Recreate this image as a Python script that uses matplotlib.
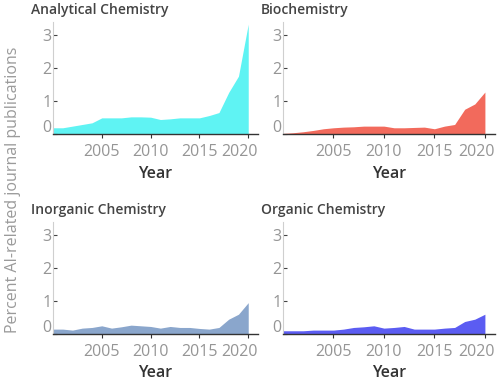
import matplotlib.pyplot as plt
from matplotlib.transforms import ScaledTranslation

plt.rcParams['font.family'] = ['Open Sans', 'DejaVu Sans']

years = list(range(2000, 2021))

analytical = [0.20, 0.20, 0.25, 0.30, 0.35, 0.50, 0.50, 0.50, 0.53, 0.53, 0.52,
              0.45, 0.47, 0.50, 0.50, 0.50, 0.57, 0.66, 1.27, 1.76, 3.33]
biochemistry = [0.03, 0.05, 0.08, 0.12, 0.17, 0.20, 0.22, 0.23, 0.25, 0.25, 0.25,
                0.20, 0.20, 0.21, 0.22, 0.17, 0.25, 0.30, 0.76, 0.92, 1.28]
inorganic = [0.15, 0.15, 0.12, 0.18, 0.20, 0.25, 0.18, 0.22, 0.27, 0.25, 0.23,
             0.18, 0.23, 0.20, 0.20, 0.17, 0.15, 0.20, 0.45, 0.60, 0.95]
organic = [0.10, 0.10, 0.10, 0.12, 0.12, 0.12, 0.15, 0.20, 0.22, 0.25, 0.18,
           0.20, 0.23, 0.15, 0.15, 0.15, 0.18, 0.20, 0.38, 0.45, 0.60]

panels = [
    ('Analytical Chemistry', analytical, '#5ff3f3'),
    ('Biochemistry', biochemistry, '#f26a5c'),
    ('Inorganic Chemistry', inorganic, '#8aa6cc'),
    ('Organic Chemistry', organic, '#5b5cf2'),
]

y_ticks = [0, 1, 2, 3]
x_ticks = [2005, 2010, 2015, 2020]

fig = plt.figure(figsize=(5, 3.84), dpi=100)

rects = [
    [0.106, 0.650, 0.410, 0.293],
    [0.566, 0.650, 0.424, 0.293],
    [0.106, 0.130, 0.410, 0.293],
    [0.566, 0.130, 0.424, 0.293],
]

for (title, vals, color), rect in zip(panels, rects):
    ax = fig.add_axes(rect)
    ax.fill_between(years, vals, 0, color=color, linewidth=0)
    ax.set_xlim(2000, 2021)
    ax.set_ylim(0, 3.4)
    ax.set_xticks(x_ticks)
    ax.set_yticks(y_ticks)
    ax.tick_params(axis='both', labelsize=11.5, labelcolor='#959595', length=3, pad=1)
    ax.tick_params(axis='x', color='#333333', pad=4)
    ax.tick_params(axis='y', color='#444444', direction='in', length=3)
    for spine in ['top', 'right']:
        ax.spines[spine].set_visible(False)
    ax.spines['left'].set_color('#cfcfcf')
    ax.spines['bottom'].set_color('#333333')
    ax.spines['bottom'].set_linewidth(1.0)
    # lift the 0 label above the baseline
    lab0 = ax.get_yticklabels()[0]
    lab0.set_transform(lab0.get_transform() + ScaledTranslation(0, 6 / 72, fig.dpi_scale_trans))
    # last year label sits left of its tick so it stays inside the panel
    lab_last = ax.get_xticklabels()[-1]
    lab_last.set_transform(lab_last.get_transform() + ScaledTranslation(-6 / 72, 0, fig.dpi_scale_trans))
    ax.text(-0.105, 1.04, title, transform=ax.transAxes, fontsize=10,
            fontweight='semibold', color='#444444', ha='left', va='bottom')
    ax.set_xlabel('Year', fontsize=11.5, fontweight='semibold', color='#333333', labelpad=4)

fig.text(0.026, 0.505, 'Percent AI-related journal publications', rotation=90,
         ha='center', va='center', fontsize=11.5, color='#9a9a9a')

fig.savefig('out.png', dpi=100, facecolor='white')
